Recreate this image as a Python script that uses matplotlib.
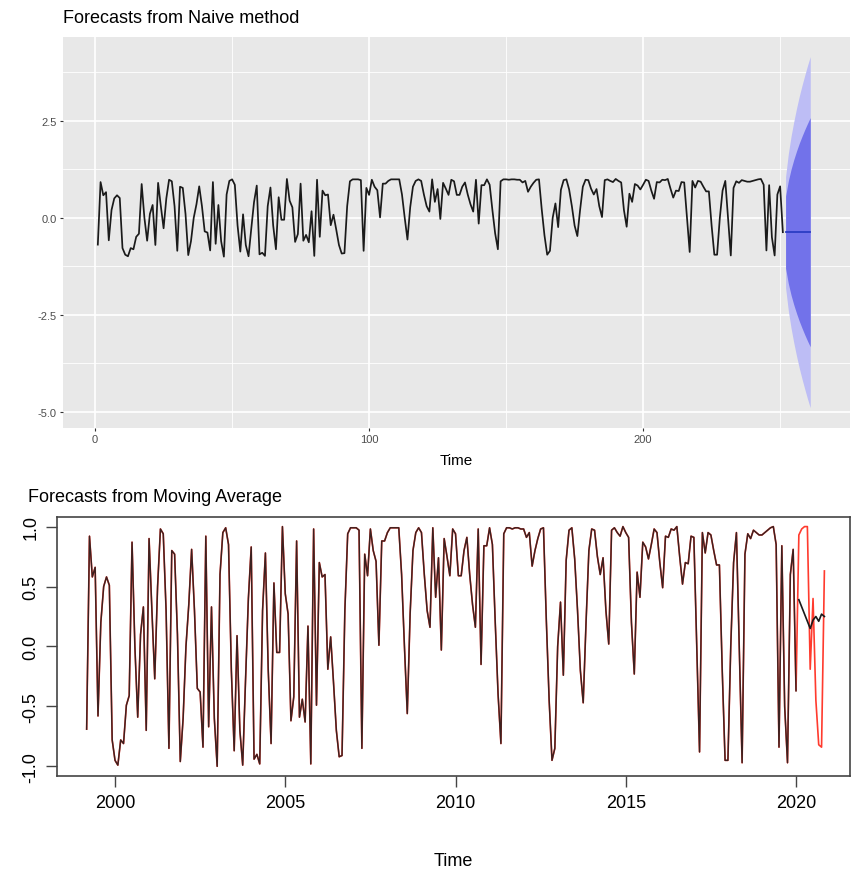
import numpy as np
import matplotlib
matplotlib.use('Agg')
from matplotlib import pyplot as plt
from matplotlib.ticker import MultipleLocator

plt.rcParams['font.family'] = ['Liberation Sans', 'DejaVu Sans']
plt.rcParams['axes.unicode_minus'] = False

# monthly series, Mar 1999 .. Jan 2020
series = [
    -0.69, 0.92, 0.58, 0.66, -0.58, 0.20, 0.50, 0.58, 0.51, -0.78,
    -0.95, -0.99, -0.78, -0.81, -0.49, -0.41, 0.87, 0.00, -0.59, 0.10,
    0.33, -0.70, 0.90, 0.30, -0.27, 0.50, 0.98, 0.94, 0.30, -0.85,
    0.80, 0.77, 0.10, -0.96, -0.60, 0.00, 0.35, 0.81, 0.30, -0.35,
    -0.38, -0.84, 0.92, -0.67, 0.33, -0.60, -1.00, 0.60, 0.95, 0.99,
    0.85, -0.20, -0.87, 0.09, -0.70, -0.99, -0.28, 0.40, 0.83, -0.94,
    -0.90, -0.98, 0.30, 0.78, -0.20, -0.81, 0.53, -0.05, -0.05, 1.00,
    0.44, 0.27, -0.62, -0.42, 0.88, -0.59, -0.44, -0.63, 0.17, -0.98,
    0.98, -0.49, 0.70, 0.58, 0.60, -0.19, 0.08, -0.30, -0.70, -0.92,
    -0.91, 0.30, 0.94, 0.99, 0.99, 0.99, 0.97, -0.85, 0.77, 0.59,
    0.98, 0.80, 0.71, 0.01, 0.88, 0.88, 0.95, 0.99, 0.99, 0.99,
    0.99, 0.60, 0.00, -0.56, 0.27, 0.80, 0.95, 0.99, 0.95, 0.60,
    0.30, 0.16, 0.99, 0.41, 0.74, -0.03, 0.90, 0.75, 0.59, 0.98,
    0.94, 0.59, 0.59, 0.80, 0.91, 0.60, 0.35, 0.16, 0.98, -0.15,
    0.84, 0.84, 0.99, 0.85, 0.20, -0.40, -0.81, 0.94, 0.99, 0.99,
    0.98, 0.99, 0.99, 0.98, 0.98, 0.91, 0.95, 0.67, 0.80, 0.90,
    0.98, 0.99, 0.22, -0.45, -0.95, -0.85, 0.00, 0.37, -0.24, 0.72,
    0.97, 0.99, 0.73, 0.30, -0.20, -0.47, 0.20, 0.80, 0.98, 0.97,
    0.75, 0.60, 0.74, 0.30, 0.02, 0.97, 0.99, 0.95, 0.92, 1.00,
    0.95, 0.91, 0.20, -0.23, 0.62, 0.41, 0.87, 0.83, 0.73, 0.85,
    0.98, 0.95, 0.70, 0.49, 0.92, 0.91, 0.98, 0.97, 1.00, 0.75,
    0.52, 0.70, 0.69, 0.92, 0.91, 0.00, -0.88, 0.95, 0.78, 0.95,
    0.93, 0.80, 0.68, 0.68, -0.20, -0.95, -0.95, 0.00, 0.70, 0.95,
    0.00, -0.97, 0.77, 0.94, 0.90, 0.97, 0.95, 0.93, 0.93, 0.95,
    0.97, 0.99, 1.00, 0.85, -0.84, 0.84, -0.50, -0.97, 0.60, 0.81,
    -0.37,
]
start_year = 1999 + 2 / 12

# held-out months (red) and moving-average forecast (black), Feb..Nov 2020
test_values = [0.93, 0.98, 1.00, 1.00, -0.19, 0.40, -0.45, -0.82, -0.84, 0.63]
ma_forecast = [0.39, 0.33, 0.27, 0.21, 0.15, 0.22, 0.25, 0.21, 0.27, 0.25]

# naive forecast: point value and 80% / 95% bounds for h = 1..10
naive_mean = [-0.37] * 10
hi80 = [0.56, 0.95, 1.25, 1.50, 1.72, 1.92, 2.10, 2.27, 2.43, 2.58]
lo80 = [-1.30, -1.69, -1.99, -2.24, -2.46, -2.66, -2.84, -3.01, -3.17, -3.32]
hi95 = [1.06, 1.65, 2.10, 2.48, 2.82, 3.13, 3.41, 3.67, 3.92, 4.15]
lo95 = [-1.80, -2.39, -2.84, -3.22, -3.56, -3.87, -4.15, -4.41, -4.66, -4.89]

n = len(series)
idx = np.arange(1, n + 1)
fc_idx = np.arange(n + 1, n + 1 + len(naive_mean))
t = start_year + np.arange(n) / 12
t_test = start_year + np.arange(n, n + len(test_values)) / 12

fig = plt.figure(figsize=(8.54, 8.79), dpi=100)

# ---- top: ggplot style naive forecast
ax1 = fig.add_axes([0.0738, 0.512, 0.9215, 0.445])
ax1.set_facecolor('#e8e8e8')
ax1.fill_between(fc_idx, lo95, hi95, color='#bdbdf5', lw=0)
ax1.fill_between(fc_idx, lo80, hi80, color='#7272ea', lw=0)
ax1.plot(fc_idx, naive_mean, color='#2a3cc4', lw=1.3)
ax1.plot(idx, series, color='#1a1a1a', lw=1.25)
ax1.set_xlim(-11.7, 275.5)
ax1.set_ylim(-5.41, 4.66)
ax1.xaxis.set_major_locator(MultipleLocator(100))
ax1.xaxis.set_minor_locator(MultipleLocator(50))
ax1.yaxis.set_major_locator(MultipleLocator(2.5))
ax1.yaxis.set_minor_locator(MultipleLocator(1.25))
ax1.grid(which='major', color='white', lw=1.2)
ax1.grid(which='minor', color='white', lw=0.6)
ax1.set_axisbelow(True)
for s in ax1.spines.values():
    s.set_visible(False)
ax1.tick_params(which='major', length=2.5, color='#333333', labelcolor='#4d4d4d',
                labelsize=8, pad=2)
ax1.tick_params(which='minor', length=0)
ax1.set_xlabel('Time', fontsize=11, labelpad=6)
fig.text(0.0738, 0.979, 'Forecasts from Naive method', fontsize=13, va='center')

# ---- bottom: base R style moving average
ax2 = fig.add_axes([0.0671, 0.1164, 0.9282, 0.2943])
ax2.plot(np.concatenate([t, t_test]), series + test_values, color='#ff3b2e', lw=1.2)
ax2.plot(t, series, color='#2a1f1f', lw=1.05, alpha=0.92)
ax2.plot(t_test, ma_forecast, color='#1a1a1a', lw=1.2)
ax2.set_xlim(1998.305, 2021.585)
ax2.set_ylim(-1.078, 1.08)
ax2.set_xticks([2000, 2005, 2010, 2015, 2020])
ax2.set_yticks([-1.0, -0.5, 0.0, 0.5, 1.0])
ax2.set_yticklabels(['-1.0', '-0.5', '0.0', '0.5', '1.0'], rotation=90, va='center')
ax2.tick_params(length=8, width=1.0, color='#444444', labelsize=13, pad=5)
for s in ax2.spines.values():
    s.set_color('#444444')
    s.set_linewidth(1.2)
ax2.set_xlabel('Time', fontsize=13, labelpad=30)
fig.text(0.0328, 0.434, 'Forecasts from Moving Average', fontsize=13, va='center')

plt.savefig('out.png', dpi=100)
